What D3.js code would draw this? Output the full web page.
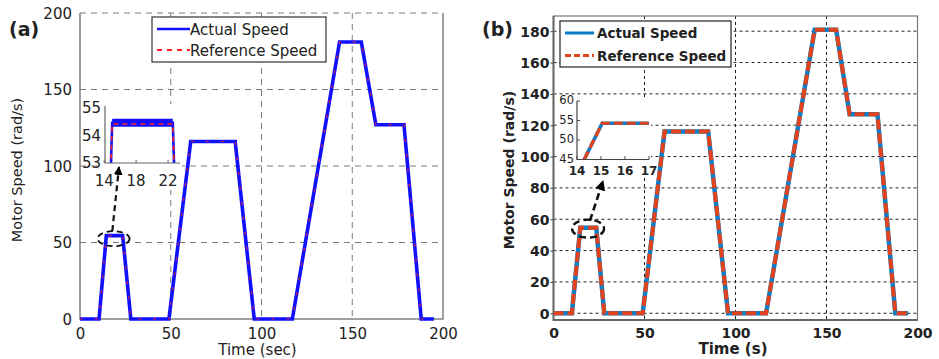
<!DOCTYPE html>
<html>
<head>
<meta charset="utf-8">
<script src="https://cdn.jsdelivr.net/npm/d3@7"></script>
<style>
  body { margin: 0; background: #fff; }
  text { font-family: "DejaVu Sans", Verdana, sans-serif; fill: #222; }
</style>
</head>
<body>
<div class="chart"></div>
<script>
// speed profile (both panels follow the same drive cycle)
var timeA = [0, 10.5, 14.5, 23.5, 28, 49, 61, 85.5, 96, 117, 143, 155, 163, 178.5, 188, 195];
var refSpeedA = [0, 0, 54.5, 54.5, 0, 0, 116, 116, 0, 0, 181, 181, 127, 127, 0, 0];
var actSpeedA = [0, 0, 54.5, 54.5, 0, 0, 116, 116, 0, 0, 181, 181, 127, 127, 0, 0];

var timeB = [0, 10.1, 14.7, 23.5, 27.9, 49, 61, 85, 95.9, 116.8, 143.5, 155.3, 162.7, 178, 187.8, 194.8];
var refSpeedB = [0, 0, 54.5, 54.5, 0, 0, 116, 116, 0, 0, 181, 181, 127, 127, 0, 0];
var actSpeedB = [0, 0, 54.5, 54.5, 0, 0, 116, 116, 0, 0, 181, 181, 127, 127, 0, 0];

// zoomed insets
var insetTimeA = [14.8, 15.0, 22.6, 22.8];
var insetActA = [52.5, 54.46, 54.46, 52.5];
var insetRefA = [52.5, 54.42, 54.42, 52.5];
var insetTimeB = [14.3, 15.05, 17];
var insetSpeedB = [45, 54.3, 54.3];

var xTicks = [0, 50, 100, 150, 200];
var yTicksA = [0, 50, 100, 150, 200];
var yTicksB = [0, 20, 40, 60, 80, 100, 120, 140, 160, 180];
var insetXTicksA = [14, 18, 22];
var insetYTicksA = [53, 54, 55];
var insetXTicksB = [14, 15, 16, 17];
var insetYTicksB = [45, 50, 55, 60];

var legendLabels = ["Actual Speed", "Reference Speed"];

var svg = d3.select(".chart").append("svg")
  .attr("width", 939).attr("height", 359);

var defs = svg.append("defs");
defs.append("marker")
  .attr("id", "arrow")
  .attr("viewBox", "0 0 10 10")
  .attr("refX", 9).attr("refY", 5)
  .attr("markerWidth", 4).attr("markerHeight", 4)
  .attr("markerUnits", "strokeWidth")
  .attr("orient", "auto")
  .append("path").attr("d", "M0,0L10,5L0,10Z").attr("fill", "#000");

function zip(xs, ys) {
  return xs.map(function(d, i) { return [d, ys[i]]; });
}

// ---------- panel (a) ----------
var xA = d3.scaleLinear().domain([0, 200]).range([80, 443]);
var yA = d3.scaleLinear().domain([0, 200]).range([319, 13]);
var gA = svg.append("g");

gA.append("g").selectAll("line").data([50, 100, 150]).enter().append("line")
  .attr("x1", function(d) { return xA(d); }).attr("x2", function(d) { return xA(d); })
  .attr("y1", yA(200)).attr("y2", yA(0))
  .attr("stroke", "#7a7a7a").attr("stroke-dasharray", "6,5");
gA.append("g").selectAll("line").data([50, 100, 150, 200]).enter().append("line")
  .attr("y1", function(d) { return yA(d); }).attr("y2", function(d) { return yA(d); })
  .attr("x1", xA(0)).attr("x2", xA(200))
  .attr("stroke", "#7a7a7a").attr("stroke-dasharray", "6,5");

gA.append("path")
  .attr("d", "M" + xA(0) + "," + yA(200) + "V" + yA(0) + "H" + xA(200) + "V" + yA(200))
  .attr("fill", "none").attr("stroke", "#808080").attr("stroke-width", 1.5);

var axA = gA.append("g").attr("transform", "translate(0," + yA(0) + ")")
  .call(d3.axisBottom(xA).tickValues(xTicks).tickSize(0).tickPadding(9));
var ayA = gA.append("g").attr("transform", "translate(" + xA(0) + ",0)")
  .call(d3.axisLeft(yA).tickValues(yTicksA).tickSize(0).tickPadding(8));
[axA, ayA].forEach(function(a) {
  a.select(".domain").remove();
  a.selectAll("text").style("font-size", "15px").attr("fill", "#222");
});
ayA.selectAll("text").attr("dy", "0.36em");

var lineA = d3.line().x(function(d) { return xA(d[0]); }).y(function(d) { return yA(d[1]); });
gA.append("path").datum(zip(timeA, actSpeedA)).attr("d", lineA)
  .attr("fill", "none").attr("stroke", "#1010ff").attr("stroke-width", 3.6);
gA.append("path").datum(zip(timeA, refSpeedA)).attr("d", lineA)
  .attr("fill", "none").attr("stroke", "#ff2020").attr("stroke-width", 1.2)
  .attr("stroke-dasharray", "3,12").attr("opacity", 0.85);

// inset (a)
var ixA = d3.scaleLinear().domain([14.1, 23.5]).range([105, 180]);
var iyA = d3.scaleLinear().domain([53, 55]).range([163, 108]);
gA.append("rect").attr("x", 100).attr("y", 104).attr("width", 82).attr("height", 86).attr("fill", "#fff");
gA.append("clipPath").attr("id", "clipA").append("rect")
  .attr("x", 105).attr("y", 100).attr("width", 75).attr("height", 63);
var ilineA = d3.line().x(function(d) { return ixA(d[0]); }).y(function(d) { return iyA(d[1]); });
var actA = zip(insetTimeA, insetActA);
gA.append("path").datum(actA).attr("d", ilineA)
  .attr("clip-path", "url(#clipA)")
  .attr("fill", "none").attr("stroke", "#1010ff").attr("stroke-width", 2.6);
gA.append("path").datum(actA.slice(1, 3)).attr("d", ilineA)
  .attr("clip-path", "url(#clipA)")
  .attr("fill", "none").attr("stroke", "#1010ff").attr("stroke-width", 8);
gA.append("path").datum(zip(insetTimeA, insetRefA)).attr("d", ilineA)
  .attr("clip-path", "url(#clipA)")
  .attr("fill", "none").attr("stroke", "#ff2020").attr("stroke-width", 1.6)
  .attr("stroke-dasharray", "5,4");
gA.append("path").attr("d", "M105,106V163H180")
  .attr("fill", "none").attr("stroke", "#666").attr("stroke-width", 1.2);
gA.append("g").selectAll("line").data(insetXTicksA).enter().append("line")
  .attr("x1", function(d) { return ixA(d); }).attr("x2", function(d) { return ixA(d); })
  .attr("y1", 163).attr("y2", 160).attr("stroke", "#666");
gA.append("g").selectAll("text").data(insetXTicksA).enter().append("text")
  .attr("x", function(d) { return ixA(d); }).attr("y", 186)
  .attr("text-anchor", "middle").style("font-size", "15px").text(function(d) { return d; });
gA.append("g").selectAll("text").data(insetYTicksA).enter().append("text")
  .attr("x", 101).attr("y", function(d) { return iyA(d) + 5; })
  .attr("text-anchor", "end").style("font-size", "15px").text(function(d) { return d; });

// zoom marker (a)
gA.append("ellipse").attr("cx", xA(18.5)).attr("cy", yA(52.5)).attr("rx", 16).attr("ry", 7.5)
  .attr("fill", "none").attr("stroke", "#111").attr("stroke-width", 1.8).attr("stroke-dasharray", "6,4");
gA.append("line").attr("x1", xA(17.8)).attr("y1", yA(57.5)).attr("x2", 119).attr("y2", 167)
  .attr("stroke", "#111").attr("stroke-width", 2.2).attr("stroke-dasharray", "6,4")
  .attr("marker-end", "url(#arrow)");

// legend (a)
var legA = gA.append("g");
legA.append("rect").attr("x", 152).attr("y", 17).attr("width", 174).attr("height", 45)
  .attr("fill", "#fff").attr("stroke", "#333").attr("stroke-width", 1.2);
legA.append("line").attr("x1", 157).attr("x2", 190).attr("y1", 29).attr("y2", 29)
  .attr("stroke", "#1010ff").attr("stroke-width", 2.5);
legA.append("line").attr("x1", 157).attr("x2", 190).attr("y1", 50).attr("y2", 50)
  .attr("stroke", "#ff2020").attr("stroke-width", 1.8).attr("stroke-dasharray", "5,5");
legA.selectAll("text").data(legendLabels).enter().append("text")
  .attr("x", 190).attr("y", function(d, i) { return 35 + i * 21; })
  .style("font-size", "15px").text(function(d) { return d; });

gA.append("text").attr("x", xA(100) - 4).attr("y", 355).attr("text-anchor", "middle")
  .style("font-size", "15px").text("Time (sec)");
gA.append("text").attr("transform", "translate(22,170) rotate(-90)").attr("text-anchor", "middle")
  .style("font-size", "14.5px").text("Motor Speed (rad/s)");
gA.append("text").attr("x", 9).attr("y", 36).style("font-size", "19px").style("font-weight", "bold")
  .text("(a)");

// ---------- panel (b) ----------
var xB = d3.scaleLinear().domain([0, 200]).range([553.5, 917.5]);
var yB = d3.scaleLinear().domain([-4.3, 189.7]).range([320, 16]);
var gB = svg.append("g");

gB.append("g").selectAll("line").data([50, 100, 150]).enter().append("line")
  .attr("x1", function(d) { return xB(d); }).attr("x2", function(d) { return xB(d); })
  .attr("y1", yB(189.7)).attr("y2", yB(-4.3))
  .attr("stroke", "#222").attr("stroke-dasharray", "3,3");
gB.append("g").selectAll("line").data(yTicksB).enter().append("line")
  .attr("y1", function(d) { return yB(d); }).attr("y2", function(d) { return yB(d); })
  .attr("x1", xB(0)).attr("x2", xB(200))
  .attr("stroke", "#222").attr("stroke-dasharray", "3,3");

gB.append("rect").attr("x", xB(0)).attr("y", yB(189.7))
  .attr("width", xB(200) - xB(0)).attr("height", yB(-4.3) - yB(189.7))
  .attr("fill", "none").attr("stroke", "#777").attr("stroke-width", 1.2);
gB.append("path").attr("d", "M" + xB(0) + "," + yB(189.7) + "V" + yB(-4.3) + "H" + xB(200))
  .attr("fill", "none").attr("stroke", "#666").attr("stroke-width", 2);

var axB = gB.append("g").attr("transform", "translate(0," + yB(-4.3) + ")")
  .call(d3.axisBottom(xB).tickValues(xTicks).tickSize(0).tickPadding(8));
var ayB = gB.append("g").attr("transform", "translate(" + xB(0) + ",0)")
  .call(d3.axisLeft(yB).tickValues(yTicksB).tickSize(3).tickPadding(1));
[axB, ayB].forEach(function(a) {
  a.select(".domain").remove();
  a.selectAll("text").style("font-size", "14px").style("font-weight", "bold").attr("fill", "#222");
  a.selectAll("line").attr("stroke", "#444");
});
ayB.selectAll("text").attr("dy", "0.36em");

var lineB = d3.line().x(function(d) { return xB(d[0]); }).y(function(d) { return yB(d[1]); });
gB.append("path").datum(zip(timeB, actSpeedB)).attr("d", lineB)
  .attr("fill", "none").attr("stroke", "#0b7cc6").attr("stroke-width", 4.5);
gB.append("path").datum(zip(timeB, refSpeedB)).attr("d", lineB)
  .attr("fill", "none").attr("stroke", "#e2421c").attr("stroke-width", 4)
  .attr("stroke-dasharray", "10,4");

// inset (b)
var ixB = d3.scaleLinear().domain([14, 17]).range([577, 649]);
var iyB = d3.scaleLinear().domain([45, 60]).range([159.5, 101]);
gB.append("rect").attr("x", 558).attr("y", 98).attr("width", 93).attr("height", 79).attr("fill", "#fff");
var ilineB = d3.line().x(function(d) { return ixB(d[0]); }).y(function(d) { return iyB(d[1]); });
gB.append("path").datum(zip(insetTimeB, insetSpeedB)).attr("d", ilineB)
  .attr("fill", "none").attr("stroke", "#0b7cc6").attr("stroke-width", 3.6);
gB.append("path").datum(zip(insetTimeB, insetSpeedB)).attr("d", ilineB)
  .attr("fill", "none").attr("stroke", "#e2421c").attr("stroke-width", 3.2)
  .attr("stroke-dasharray", "9,4");
gB.append("path").attr("d", "M577,101V159.5H649")
  .attr("fill", "none").attr("stroke", "#444").attr("stroke-width", 1.2);
gB.append("g").selectAll("line").data(insetXTicksB).enter().append("line")
  .attr("x1", function(d) { return ixB(d); }).attr("x2", function(d) { return ixB(d); })
  .attr("y1", 159.5).attr("y2", 156).attr("stroke", "#444");
gB.append("g").selectAll("line").data(insetYTicksB).enter().append("line")
  .attr("y1", function(d) { return iyB(d); }).attr("y2", function(d) { return iyB(d); })
  .attr("x1", 577).attr("x2", 580).attr("stroke", "#444");
gB.append("g").selectAll("text").data(insetXTicksB).enter().append("text")
  .attr("x", function(d) { return ixB(d); }).attr("y", 175)
  .attr("text-anchor", "middle").style("font-size", "12px").style("font-weight", "bold")
  .text(function(d) { return d; });
gB.append("g").selectAll("text").data(insetYTicksB).enter().append("text")
  .attr("x", 574).attr("y", function(d) { return iyB(d) + 3; })
  .attr("text-anchor", "end").style("font-size", "11.5px").text(function(d) { return d; });

// zoom marker (b)
gB.append("ellipse").attr("cx", xB(19)).attr("cy", yB(54)).attr("rx", 16).attr("ry", 9)
  .attr("fill", "none").attr("stroke", "#111").attr("stroke-width", 2.4).attr("stroke-dasharray", "7,4");
gB.append("line").attr("x1", xB(20)).attr("y1", yB(59)).attr("x2", 603).attr("y2", 181)
  .attr("stroke", "#111").attr("stroke-width", 2.6).attr("stroke-dasharray", "7,4")
  .attr("marker-end", "url(#arrow)");

// legend (b)
var legB = gB.append("g");
legB.append("rect").attr("x", 560).attr("y", 21).attr("width", 171).attr("height", 46)
  .attr("fill", "#fff").attr("stroke", "#222").attr("stroke-width", 1.2);
legB.append("line").attr("x1", 565).attr("x2", 594).attr("y1", 33).attr("y2", 33)
  .attr("stroke", "#0b7cc6").attr("stroke-width", 3);
legB.append("line").attr("x1", 565).attr("x2", 594).attr("y1", 55.5).attr("y2", 55.5)
  .attr("stroke", "#e2421c").attr("stroke-width", 3).attr("stroke-dasharray", "6,3");
legB.selectAll("text").data(legendLabels).enter().append("text")
  .attr("x", 597).attr("y", function(d, i) { return 38 + i * 22.5; })
  .style("font-size", "13.5px").style("font-weight", "bold").text(function(d) { return d; });

gB.append("text").attr("x", 733).attr("y", 354).attr("text-anchor", "middle")
  .style("font-size", "15px").style("font-weight", "bold").text("Time (s)");
gB.append("text").attr("transform", "translate(514,170) rotate(-90)").attr("text-anchor", "middle")
  .style("font-size", "14px").style("font-weight", "bold").text("Motor Speed (rad/s)");
gB.append("text").attr("x", 482).attr("y", 36).style("font-size", "19px").style("font-weight", "bold")
  .text("(b)");
</script>
</body>
</html>
